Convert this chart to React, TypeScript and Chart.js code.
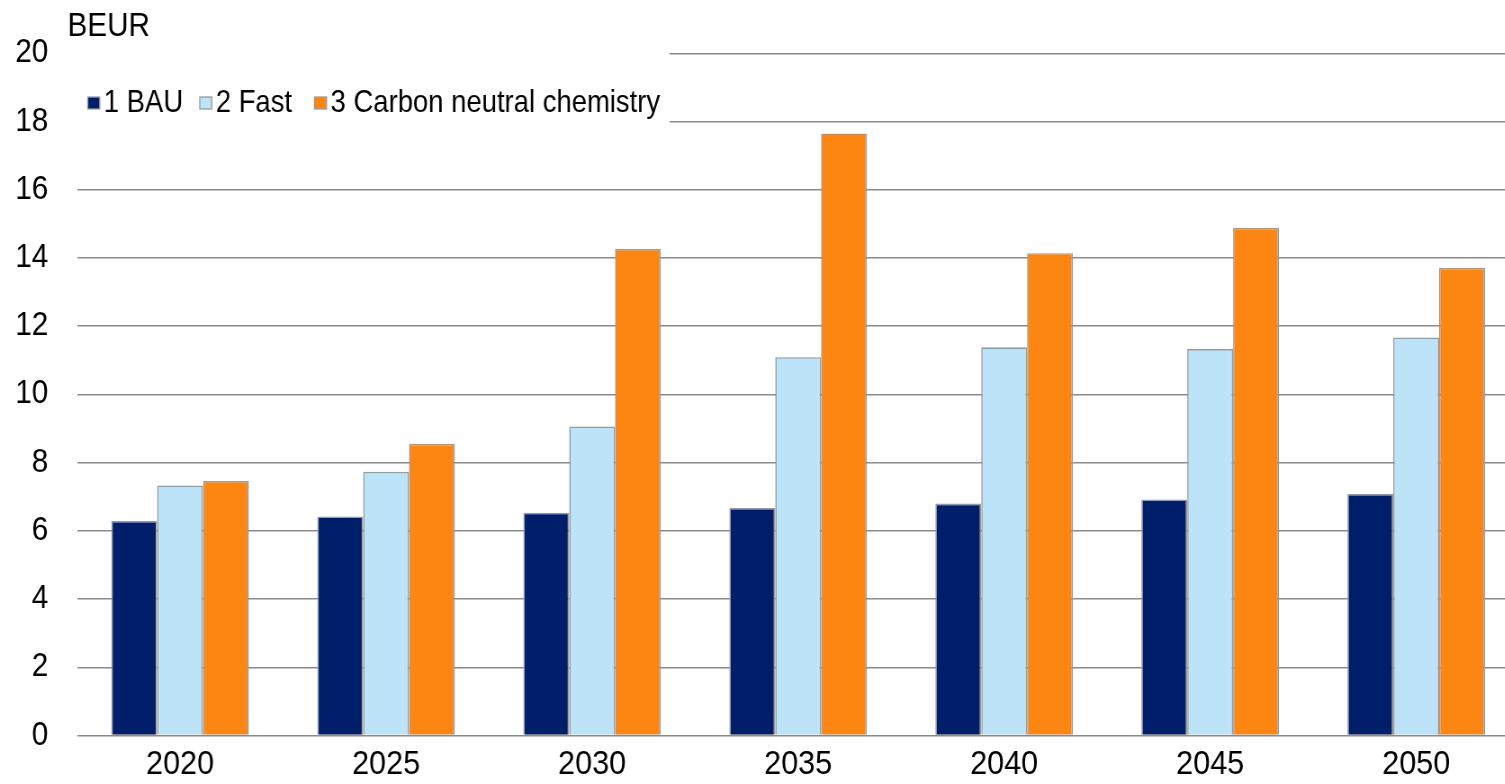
import React, { useEffect, useRef } from "react";
import { Chart, registerables } from "chart.js";

Chart.register(...registerables);

const categories = ["2020", "2025", "2030", "2035", "2040", "2045", "2050"];
const seriesNames = ["1 BAU", "2 Fast", "3 Carbon neutral chemistry"];
const bau = [6.29, 6.42, 6.53, 6.67, 6.8, 6.92, 7.08];
const fast = [7.33, 7.73, 9.06, 11.09, 11.38, 11.33, 11.67];
const carbonNeutral = [7.46, 8.55, 14.26, 17.65, 14.14, 14.88, 13.71];
const yTicks = { min: 0, max: 20, step: 2 };
const unitLabel = "BEUR";

const colors = ["#001E6A", "#BCE3F7", "#FD8612"];
const FONT = "'Liberation Sans', Arial, sans-serif";
const STRETCH = 0.9;
const CW = 1688;
const CH = 784;

const overlayPlugin = {
  id: "overlay",
  beforeDatasetsDraw(chart: any) {
    const ctx = chart.ctx;
    ctx.save();
    ctx.fillStyle = "#ffffff";
    ctx.fillRect(chart.chartArea.left - 1, 40, 744 - chart.chartArea.left + 1, 88);
    ctx.restore();
  },
  afterDraw(chart: any) {
    const ctx = chart.ctx;
    ctx.save();
    ctx.fillStyle = "#000";
    ctx.font = `33px ${FONT}`;
    ctx.textBaseline = "alphabetic";
    ctx.textAlign = "left";
    ctx.fillText(unitLabel, 75, 36);

    ctx.font = `30.5px ${FONT}`;
    ctx.textBaseline = "middle";
    let x = 97.5;
    const cy = 103;
    chart.data.datasets.forEach((ds: any, i: number) => {
      const w = 13.3;
      const h = 12;
      ctx.fillStyle = ds.backgroundColor;
      ctx.fillRect(x, cy - h / 2, w, h);
      ctx.strokeStyle = "#9a9a9a";
      ctx.lineWidth = 1.3;
      ctx.strokeRect(x, cy - h / 2, w, h);
      x += w + 4.5;
      ctx.fillStyle = "#000";
      ctx.fillText(ds.label, x, cy + 1);
      x += ctx.measureText(ds.label).width + (i === 0 ? 18.5 : 25);
    });
    ctx.restore();
  },
};

export default function App() {
  const ref = useRef<HTMLCanvasElement | null>(null);

  useEffect(() => {
    const canvas = ref.current;
    if (!canvas) return;
    const series = [bau, fast, carbonNeutral];
    const chart = new Chart(canvas, {
      type: "bar",
      data: {
        labels: categories,
        datasets: series.map((d, i) => ({
          label: seriesNames[i],
          data: d,
          backgroundColor: colors[i],
          borderColor: "#9a9a9a",
          borderWidth: 1.6,
          categoryPercentage: 0.668,
          barPercentage: 1.0,
        })),
      },
      options: {
        responsive: false,
        animation: false,
        devicePixelRatio: 1,
        layout: { padding: { top: 53.3, left: 0, right: 0, bottom: 0 } },
        plugins: {
          legend: { display: false },
          title: { display: false },
          tooltip: { enabled: false },
        },
        scales: {
          x: {
            grid: { display: false, drawTicks: false },
            border: { display: false },
            ticks: {
              color: "#000",
              font: { family: FONT, size: 34, lineHeight: 1.0 },
              padding: 12.5,
              maxRotation: 0,
              autoSkip: false,
            },
            afterFit(scale: any) {
              scale.height = 45;
            },
          },
          y: {
            min: yTicks.min,
            max: yTicks.max,
            grid: { color: "#8a8a8a", lineWidth: 1.5, drawTicks: false },
            border: { display: false },
            ticks: {
              stepSize: yTicks.step,
              color: "#000",
              font: { family: FONT, size: 33, lineHeight: 1.0 },
              padding: 32,
            },
            afterFit(scale: any) {
              scale.width = 85.6;
            },
          },
        },
      },
      plugins: [overlayPlugin],
    } as any);
    return () => chart.destroy();
  }, []);

  return (
    <div
      style={{
        position: "fixed",
        left: 0,
        top: 0,
        width: 1505,
        height: 784,
        overflow: "hidden",
        background: "#fff",
      }}
    >
      <div
        style={{
          width: CW,
          height: CH,
          transform: `scaleX(${STRETCH})`,
          transformOrigin: "0 0",
        }}
      >
        <canvas ref={ref} width={CW} height={CH} style={{ width: CW, height: CH, display: "block" }} />
      </div>
    </div>
  );
}
